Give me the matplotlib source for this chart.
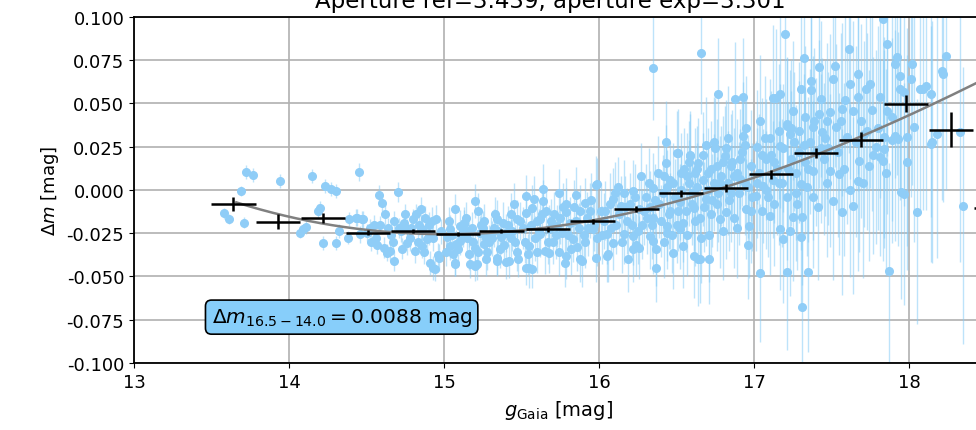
import numpy as np
import matplotlib
matplotlib.use("Agg")
import matplotlib.pyplot as plt

#Individual stars: Gaia g magnitude, magnitude offset and its error
g_gaia = [
    13.58, 13.61, 13.69, 13.71, 13.72, 13.77, 13.94, 14.07, 14.09, 14.11,
    14.15, 14.19, 14.20, 14.22, 14.23, 14.27, 14.30, 14.30, 14.32, 14.38,
    14.39,
    14.43, 14.44, 14.45, 14.46, 14.47, 14.48, 14.50, 14.55, 14.57, 14.58,
    14.60, 14.61, 14.62, 14.63, 14.65, 14.68, 14.70, 14.74, 14.76, 14.76,
    14.80, 14.81, 14.82, 14.85, 14.85, 14.86, 14.86, 14.88, 14.89, 14.90,
    14.91, 14.92, 14.93, 14.94, 14.95, 14.96, 14.97, 14.52, 14.66, 14.72,
    14.78, 14.84, 14.68, 14.56, 14.64,
    15.04, 15.04, 15.06, 15.07, 15.07, 15.07, 15.08, 15.10, 15.10, 15.13,
    15.13, 15.16, 15.17, 15.20, 15.20, 15.20, 15.21, 15.26, 15.26, 15.27,
    15.30, 15.34, 15.34, 15.34, 15.40, 15.40, 15.42, 15.43, 15.47, 15.48,
    15.02, 15.12, 15.15, 15.18, 15.23, 15.24, 15.29, 15.32, 15.37, 15.38,
    15.44, 15.46, 15.36, 15.28, 15.14, 15.22, 15.45,
    15.53, 15.53, 15.53, 15.54, 15.55, 15.55, 15.57, 15.57, 15.62, 15.62,
    15.64, 15.64, 15.65, 15.68, 15.68, 15.71, 15.73, 15.78, 15.79, 15.79,
    15.79, 15.83, 15.85, 15.87, 15.88, 15.89, 15.91, 15.92, 15.96, 15.98,
    15.98, 15.99, 15.51, 15.59, 15.60, 15.66, 15.70, 15.75, 15.76, 15.81,
    15.84, 15.86, 15.90, 15.94, 15.97, 15.58, 15.74,
    16.01, 16.05, 16.05, 16.06, 16.09, 16.09, 16.14, 16.16, 16.16, 16.22,
    16.22, 16.22, 16.24, 16.26, 16.26, 16.33, 16.33, 16.35, 16.35, 16.35,
    16.35, 16.37, 16.37, 16.43, 16.43, 16.44, 16.44, 16.46, 16.48, 16.48,
    16.03, 16.07, 16.11, 16.13, 16.18, 16.20, 16.28, 16.30, 16.31, 16.39,
    16.41, 16.42, 16.46, 16.12, 16.27, 16.38, 16.45, 16.19,
    16.50, 16.50, 16.51, 16.52, 16.52, 16.54, 16.54, 16.57, 16.59, 16.59,
    16.61, 16.61, 16.62, 16.63, 16.64, 16.64, 16.65, 16.66, 16.66, 16.69,
    16.71, 16.74, 16.76, 16.77, 16.78, 16.81, 16.82, 16.85, 16.88, 16.91,
    16.93, 16.93, 16.95, 16.95, 16.96, 16.97, 16.53, 16.56, 16.58, 16.60,
    16.62, 16.67, 16.68, 16.70, 16.72, 16.73, 16.75, 16.77, 16.79, 16.80,
    16.83, 16.84, 16.86, 16.87, 16.89, 16.90, 16.92, 16.94, 16.98, 16.99,
    16.55, 16.69, 16.83, 16.71,
    17.01, 17.04, 17.04, 17.06, 17.08, 17.10, 17.12, 17.12, 17.14, 17.17,
    17.17, 17.17, 17.19, 17.20, 17.21, 17.21, 17.21, 17.21, 17.23, 17.23,
    17.25, 17.25, 17.28, 17.30, 17.30, 17.30, 17.31, 17.31, 17.32, 17.33,
    17.35, 17.37, 17.37, 17.38, 17.38, 17.38, 17.42, 17.42, 17.43, 17.44,
    17.49, 17.49, 17.02, 17.03, 17.05, 17.07, 17.09, 17.11, 17.13, 17.15,
    17.16, 17.18, 17.24, 17.26, 17.27, 17.29, 17.33, 17.34, 17.36, 17.40,
    17.41, 17.45, 17.46, 17.47, 17.48,
    17.51, 17.51, 17.52, 17.53, 17.55, 17.57, 17.57, 17.60, 17.61, 17.62,
    17.62, 17.64, 17.64, 17.67, 17.67, 17.67, 17.68, 17.71, 17.72, 17.74,
    17.75, 17.79, 17.81, 17.81, 17.83, 17.83, 17.84, 17.84, 17.86, 17.86,
    17.87, 17.89, 17.89, 17.91, 17.91, 17.92, 17.93, 17.94, 17.94, 17.95,
    17.97, 17.97, 17.99, 17.99, 17.54, 17.56, 17.58, 17.59, 17.66, 17.69,
    17.70, 17.73, 17.76, 17.77, 17.80, 17.85,
    18.01, 18.02, 18.03, 18.05, 18.07, 18.09, 18.11, 18.14, 18.14, 18.15,
    18.18, 18.21, 18.22, 18.24, 18.33, 18.35,
    # denser parts of the cloud
    14.53, 14.59, 14.67, 14.71, 14.73, 14.75, 14.79, 14.83, 14.87, 14.90,
    14.93, 14.98,
    15.01, 15.03, 15.05, 15.09, 15.11, 15.16, 15.19, 15.22, 15.25, 15.27,
    15.31, 15.33, 15.35, 15.39, 15.41, 15.43, 15.47, 15.49,
    15.52, 15.56, 15.60, 15.61, 15.63, 15.67, 15.69, 15.72, 15.74, 15.77,
    15.80, 15.82, 15.85, 15.88, 15.91, 15.93, 15.95, 15.99,
    16.02, 16.04, 16.08, 16.10, 16.15, 16.17, 16.21, 16.23, 16.25, 16.29,
    16.32, 16.34, 16.36, 16.40, 16.42, 16.47, 16.49, 16.44,
    16.51, 16.53, 16.57, 16.58, 16.60, 16.63, 16.65, 16.67, 16.70, 16.72,
    16.74, 16.76, 16.78, 16.80, 16.82, 16.85, 16.87, 16.89, 16.91, 16.94,
    16.96, 16.98,
    17.02, 17.05, 17.08, 17.10, 17.13, 17.16, 17.19, 17.22, 17.24, 17.27,
    17.29, 17.32, 17.35, 17.39, 17.43, 17.47,
]
delta_m = [
    -0.0135, -0.0169, -0.0006, -0.0189, 0.0104, 0.0085, 0.0050, -0.0246, -0.0227, -0.0212,
    0.0081, -0.0121, -0.0102, -0.0308, 0.0023, 0.0004, -0.0006, -0.0308, -0.0237, -0.0275,
    -0.0169,
    -0.0160, -0.0160, 0.0104, -0.0256, -0.0169, -0.0169, -0.0246, -0.0204, -0.0320, -0.0031,
    -0.0073, -0.0333, -0.0140, -0.0362, -0.0353, -0.0410, -0.0012, -0.0188, -0.0304, -0.0227,
    -0.0169, -0.0353, -0.0140, -0.0108, -0.0227, -0.0324, -0.0227, -0.0160, -0.0285, -0.0256,
    -0.0420, -0.0179, -0.0449, -0.0458, -0.0169, -0.0377, -0.0391, -0.0220, -0.0260, -0.0240,
    -0.0280, -0.0200, -0.0180, -0.0280, -0.0220,
    -0.0227, -0.0324, -0.0372, -0.0112, -0.0420, -0.0429, -0.0314, -0.0208, -0.0295, -0.0188,
    -0.0198, -0.0372, -0.0429, -0.0064, -0.0439, -0.0333, -0.0429, -0.0179, -0.0314, -0.0275,
    -0.0256, -0.0169, -0.0391, -0.0410, -0.0416, -0.0246, -0.0410, -0.0140, -0.0169, -0.0401,
    -0.0270, -0.0240, -0.0280, -0.0220, -0.0250, -0.0200, -0.0300, -0.0220, -0.0270, -0.0190,
    -0.0240, -0.0300, -0.0340, -0.0360, -0.0160, -0.0120, -0.0080,
    -0.0035, -0.0131, -0.0449, -0.0372, -0.0324, -0.0449, -0.0102, -0.0454, -0.0169, -0.0256,
    0.0008, -0.0064, -0.0353, -0.0362, -0.0227, -0.0140, -0.0208, -0.0420, -0.0083, -0.0382,
    -0.0130, -0.0285, -0.0029, -0.0217, -0.0401, -0.0410, -0.0073, -0.0160, -0.0227, -0.0391,
    0.0027, 0.0033, -0.0220, -0.0280, -0.0180, -0.0120, -0.0300, -0.0160, -0.0250, -0.0190,
    -0.0100, -0.0330, -0.0260, -0.0120, -0.0200, -0.0050, -0.0020,
    -0.0121, -0.0382, -0.0256, -0.0372, -0.0054, -0.0304, -0.0092, -0.0015, -0.0256, -0.0006,
    -0.0266, -0.0343, -0.0320, -0.0112, -0.0333, -0.0266, -0.0100, 0.0014, 0.0707, -0.0160,
    -0.0295, -0.0343, -0.0449, 0.0158, 0.0277, -0.0246, -0.0210, -0.0121, -0.0362, 0.0043,
    -0.0180, -0.0080, -0.0200, -0.0140, -0.0180, -0.0080, -0.0200, -0.0040, -0.0160, -0.0080,
    -0.0020, -0.0300, 0.0060, 0.0020, 0.0080, 0.0100, -0.0140, -0.0400,
    0.0216, -0.0200, 0.0216, -0.0227, -0.0070, -0.0324, -0.0188, 0.0081, 0.0197, 0.0201,
    -0.0102, -0.0382, 0.0101, 0.0120, -0.0401, 0.0158, -0.0401, 0.0790, -0.0275, -0.0054,
    -0.0397, 0.0043, 0.0139, 0.0557, -0.0169, 0.0197, -0.0130, 0.0139, 0.0524, 0.0062,
    0.0540, 0.0312, 0.0361, -0.0110, -0.0320, -0.0208, 0.0000, -0.0120, 0.0040, -0.0020,
    -0.0180, 0.0060, -0.0100, 0.0000, 0.0120, -0.0060, 0.0240, -0.0020, 0.0080, -0.0240,
    0.0040, -0.0060, 0.0160, -0.0160, 0.0100, -0.0020, 0.0220, 0.0040, 0.0140, -0.0040,
    0.0120, 0.0260, 0.0300, -0.0260,
    -0.0035, 0.0399, -0.0481, 0.0023, 0.0177, -0.0150, 0.0534, 0.0060, 0.0530, 0.0553,
    0.0254, -0.0227, -0.0285, 0.0900, 0.0370, 0.0381, -0.0042, -0.0474, 0.0324, -0.0235,
    0.0459, -0.0158, -0.0081, 0.0584, 0.0035, -0.0273, -0.0158, -0.0678, 0.0763, 0.0420,
    -0.0474, 0.0632, 0.0575, 0.0362, 0.0112, -0.0042, 0.0709, 0.0439, 0.0526, 0.0333,
    0.0449, 0.0112, 0.0250, 0.0100, -0.0120, 0.0300, -0.0040, 0.0200, -0.0080, 0.0120,
    0.0340, 0.0040, 0.0180, 0.0280, 0.0100, 0.0220, 0.0160, 0.0020, 0.0280, 0.0220,
    -0.0100, 0.0180, 0.0300, 0.0040, 0.0240,
    -0.0061, 0.0640, 0.0715, 0.0362, 0.0092, 0.0468, -0.0125, 0.0305, 0.0813, 0.0613,
    -0.0003, 0.0459, -0.0090, 0.0670, 0.0536, 0.0054, 0.0170, 0.0324, 0.0584, 0.0141,
    0.0613, 0.0247, 0.0536, 0.0189, 0.0987, 0.0170, 0.0305, 0.0237, 0.0844, 0.0459,
    -0.0466, 0.0420, 0.0286, 0.0728, 0.0314, 0.0767, 0.0295, 0.0661, 0.0584, -0.0013,
    0.0565, -0.0023, 0.0305, 0.0160, 0.0220, 0.0400, 0.0120, 0.0520, 0.0280, 0.0400,
    0.0040, 0.0340, 0.0460, 0.0200, 0.0360, 0.0100,
    0.0642, 0.0728, 0.0362, -0.0125, 0.0584, 0.0582, 0.0603, 0.0555, 0.0266, 0.0276,
    0.0324, 0.0690, 0.0671, 0.0777, 0.0333, -0.0090,
    # denser parts of the cloud
    -0.030, -0.020, -0.030, -0.022, -0.034, -0.014, -0.022, -0.030, -0.036, -0.020,
    -0.028, -0.024,
    -0.036, -0.018, -0.026, -0.034, -0.026, -0.024, -0.030, -0.036, -0.022, -0.040,
    -0.028, -0.014, -0.024, -0.032, -0.020, -0.028, -0.036, -0.018,
    -0.030, -0.020, -0.036, -0.024, -0.014, -0.030, -0.018, -0.026, -0.036, -0.010,
    -0.026, -0.034, -0.018, -0.012, -0.030, -0.022, -0.006, -0.028,
    -0.026, -0.012, -0.022, -0.002, -0.030, -0.010, -0.020, -0.004, -0.024, -0.012,
    0.004, -0.020, -0.006, -0.018, 0.008, -0.026, -0.004, 0.002,
    -0.012, 0.010, -0.026, 0.016, -0.008, 0.002, -0.016, 0.020, 0.010, -0.014,
    0.028, -0.008, 0.004, 0.016, 0.024, -0.002, 0.008, -0.022, 0.018, 0.026,
    0.002, -0.012,
    0.004, 0.020, 0.000, 0.030, 0.016, 0.004, 0.024, 0.012, 0.036, -0.002,
    0.034, 0.026, 0.012, 0.040, 0.024, 0.040,
]
delta_m_err = [
    0.003, 0.003, 0.003, 0.003, 0.004, 0.004, 0.004, 0.003, 0.003, 0.004,
    0.004, 0.004, 0.004, 0.004, 0.004, 0.004, 0.004, 0.004, 0.004, 0.004,
    0.004,
    0.005, 0.005, 0.005, 0.005, 0.005, 0.005, 0.005, 0.006, 0.005, 0.006,
    0.005, 0.006, 0.006, 0.005, 0.006, 0.006, 0.006, 0.006, 0.007, 0.006,
    0.006, 0.007, 0.006, 0.007, 0.006, 0.007, 0.006, 0.007, 0.007, 0.006,
    0.007, 0.008, 0.007, 0.007, 0.008, 0.007, 0.008, 0.005, 0.006, 0.006,
    0.007, 0.006, 0.006, 0.005, 0.006,
    0.008, 0.008, 0.007, 0.009, 0.008, 0.007, 0.008, 0.009, 0.008, 0.009,
    0.008, 0.009, 0.008, 0.010, 0.009, 0.008, 0.009, 0.010, 0.009, 0.010,
    0.010, 0.011, 0.010, 0.009, 0.010, 0.011, 0.010, 0.012, 0.011, 0.010,
    0.008, 0.009, 0.008, 0.009, 0.010, 0.009, 0.010, 0.011, 0.010, 0.012,
    0.011, 0.010, 0.011, 0.010, 0.009, 0.010, 0.012,
    0.012, 0.011, 0.010, 0.012, 0.011, 0.012, 0.013, 0.011, 0.012, 0.013,
    0.014, 0.012, 0.013, 0.012, 0.014, 0.013, 0.012, 0.014, 0.015, 0.013,
    0.014, 0.013, 0.016, 0.014, 0.013, 0.015, 0.014, 0.015, 0.016, 0.014,
    0.017, 0.015, 0.012, 0.013, 0.012, 0.014, 0.013, 0.015, 0.014, 0.015,
    0.016, 0.014, 0.015, 0.016, 0.015, 0.013, 0.014,
    0.016, 0.015, 0.017, 0.016, 0.018, 0.016, 0.017, 0.019, 0.017, 0.018,
    0.017, 0.019, 0.018, 0.020, 0.018, 0.019, 0.021, 0.020, 0.030, 0.020,
    0.019, 0.021, 0.020, 0.022, 0.024, 0.021, 0.020, 0.022, 0.021, 0.023,
    0.016, 0.018, 0.017, 0.018, 0.019, 0.018, 0.020, 0.019, 0.021, 0.020,
    0.022, 0.021, 0.022, 0.017, 0.019, 0.021, 0.020, 0.019,
    0.024, 0.022, 0.025, 0.023, 0.022, 0.024, 0.023, 0.025, 0.026, 0.024,
    0.025, 0.024, 0.026, 0.025, 0.027, 0.026, 0.025, 0.035, 0.026, 0.027,
    0.026, 0.028, 0.027, 0.032, 0.028, 0.029, 0.027, 0.030, 0.033, 0.029,
    0.034, 0.031, 0.030, 0.029, 0.031, 0.030, 0.023, 0.024, 0.025, 0.024,
    0.026, 0.027, 0.026, 0.027, 0.028, 0.027, 0.029, 0.028, 0.029, 0.028,
    0.030, 0.029, 0.030, 0.029, 0.031, 0.030, 0.031, 0.030, 0.032, 0.031,
    0.024, 0.028, 0.030, 0.027,
    0.032, 0.038, 0.040, 0.033, 0.035, 0.034, 0.042, 0.034, 0.040, 0.045,
    0.036, 0.035, 0.037, 0.050, 0.040, 0.038, 0.036, 0.045, 0.037, 0.038,
    0.040, 0.037, 0.038, 0.045, 0.038, 0.040, 0.039, 0.050, 0.048, 0.041,
    0.046, 0.047, 0.043, 0.041, 0.040, 0.041, 0.050, 0.043, 0.045, 0.043,
    0.045, 0.044, 0.033, 0.034, 0.035, 0.036, 0.035, 0.037, 0.036, 0.038,
    0.039, 0.037, 0.039, 0.040, 0.039, 0.041, 0.042, 0.040, 0.042, 0.043,
    0.042, 0.044, 0.045, 0.043, 0.044,
    0.046, 0.055, 0.058, 0.048, 0.047, 0.050, 0.048, 0.050, 0.060, 0.055,
    0.050, 0.052, 0.051, 0.058, 0.054, 0.052, 0.053, 0.054, 0.058, 0.055,
    0.060, 0.056, 0.058, 0.057, 0.065, 0.058, 0.058, 0.057, 0.065, 0.060,
    0.062, 0.060, 0.059, 0.066, 0.061, 0.068, 0.062, 0.066, 0.064, 0.062,
    0.066, 0.064, 0.063, 0.062, 0.049, 0.051, 0.050, 0.053, 0.055, 0.056,
    0.055, 0.057, 0.058, 0.057, 0.059, 0.060,
    0.068, 0.070, 0.066, 0.065, 0.070, 0.070, 0.072, 0.071, 0.068, 0.070,
    0.072, 0.075, 0.074, 0.078, 0.075, 0.080,
    # denser parts of the cloud
    0.005, 0.005, 0.006, 0.006, 0.006, 0.006, 0.006, 0.007, 0.007, 0.007,
    0.007, 0.007,
    0.008, 0.008, 0.008, 0.009, 0.008, 0.009, 0.009, 0.009, 0.010, 0.010,
    0.010, 0.010, 0.010, 0.011, 0.011, 0.011, 0.011, 0.011,
    0.012, 0.012, 0.012, 0.013, 0.013, 0.013, 0.013, 0.014, 0.014, 0.014,
    0.014, 0.015, 0.015, 0.015, 0.015, 0.016, 0.016, 0.016,
    0.017, 0.017, 0.017, 0.018, 0.018, 0.018, 0.019, 0.019, 0.019, 0.020,
    0.020, 0.020, 0.021, 0.021, 0.021, 0.022, 0.022, 0.021,
    0.023, 0.023, 0.024, 0.024, 0.024, 0.025, 0.025, 0.025, 0.026, 0.026,
    0.026, 0.027, 0.027, 0.027, 0.028, 0.028, 0.028, 0.029, 0.029, 0.029,
    0.030, 0.030,
    0.032, 0.033, 0.034, 0.034, 0.035, 0.036, 0.037, 0.038, 0.039, 0.039,
    0.040, 0.041, 0.042, 0.042, 0.043, 0.045,
]

#Binned means
bin_g = [13.64, 13.93, 14.22, 14.51, 14.80, 15.09, 15.37, 15.67, 15.96,
         16.24, 16.53, 16.82, 17.11, 17.40, 17.69, 17.98, 18.27, 18.56]
bin_dm = [-0.0081, -0.0183, -0.0164, -0.0246, -0.0236, -0.0256, -0.0237, -0.0227, -0.0180,
          -0.0112, -0.0020, 0.0010, 0.0091, 0.0214, 0.0291, 0.0499, 0.0349, -0.0105]
bin_dm_err = [0.0043, 0.0045, 0.0029, 0.0012, 0.0012, 0.0012, 0.0012, 0.0015, 0.0015,
              0.0018, 0.0020, 0.0022, 0.0025, 0.0030, 0.0043, 0.0048, 0.0100, 0.0100]
bin_half_width = 0.144

#Trend curve
curve_g = [13.66, 14.07, 14.39, 14.70, 15.00, 15.30, 15.81, 16.30, 16.67, 17.20, 17.85, 18.43]
curve_dm = [-0.0068, -0.0173, -0.0221, -0.0245, -0.0253, -0.0250, -0.0197, -0.0110, -0.0019,
            0.0130, 0.0370, 0.0618]

x_ticks = [13, 14, 15, 16, 17, 18]
y_ticks = [-0.1, -0.075, -0.05, -0.025, 0.0, 0.025, 0.05, 0.075, 0.1]

title = "Aperture ref=3.439, aperture exp=3.301"
box_text = r"$\Delta m_{16.5-14.0} = 0.0088$ mag"

fs = 13
fig = plt.figure(figsize=(9.76, 4.31), dpi=100)
#axes runs past the right edge, the original picture is cropped there
ax = fig.add_axes([0.1373, 0.1555, 0.9529, 0.8028])

ax.errorbar(g_gaia, delta_m, yerr=delta_m_err, fmt='o', ms=5.5, color='#8fcdf7',
            mec='#8fcdf7', ecolor=(0.53, 0.8, 0.97, 0.55), elinewidth=1.0, zorder=2)

#Smooth trend through the read curve points
coef = np.polyfit(curve_g, curve_dm, 3)
xx = np.linspace(13.66, 18.8, 200)
ax.plot(xx, np.polyval(coef, xx), color='grey', lw=1.8, zorder=3)

ax.errorbar(bin_g, bin_dm, xerr=bin_half_width, yerr=bin_dm_err, fmt='none',
            ecolor='black', elinewidth=1.8, capsize=0, zorder=4)

ax.text(13.5, -0.0735, box_text, fontsize=14.5, va='center', ha='left', zorder=5,
        bbox=dict(boxstyle='round,pad=0.3', facecolor='#87cefa', edgecolor='black', lw=1.2))

ax.set_xlim(13, 19)
ax.set_ylim(-0.1, 0.1)
ax.set_xticks(x_ticks)
ax.set_yticks(y_ticks)
ax.yaxis.set_major_formatter(matplotlib.ticker.FormatStrFormatter('%.3f'))
ax.tick_params(labelsize=fs)
ax.grid(True, color='#b0b0b0', lw=1.2, zorder=0)
ax.set_axisbelow(True)
for s in ax.spines.values():
    s.set_linewidth(1.3)

ax.set_xlabel(r"$g_{\rm Gaia}$ [mag]", fontsize=14)
ax.xaxis.set_label_coords(0.456, -0.1)
ax.set_ylabel(r"$\Delta m$ [mag]", fontsize=fs)
#title sits partly above the top edge, as in the cropped original
fig.text(0.564, 0.9814, title, ha='center', va='baseline', fontsize=16.5)

plt.savefig("out.png", dpi=100)
